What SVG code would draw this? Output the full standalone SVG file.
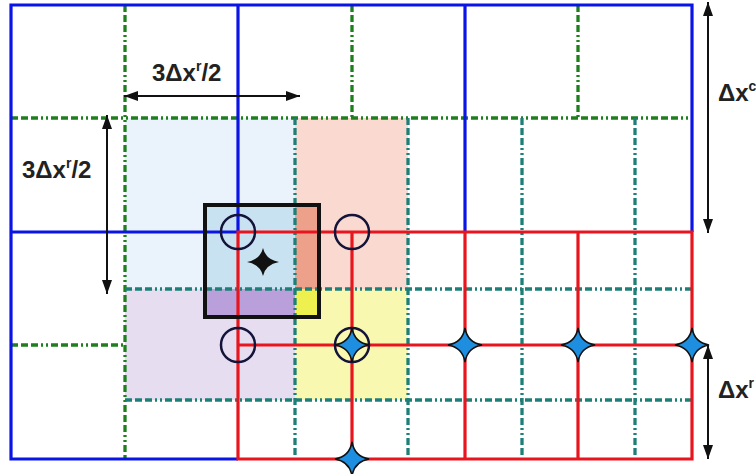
<svg xmlns="http://www.w3.org/2000/svg" width="756" height="474" viewBox="0 0 756 474">
<style>
.blue{stroke:#0a14e6;stroke-width:3.2;fill:none}
.red{stroke:#e8141e;stroke-width:3.2;fill:none}
.green{stroke:#1f7f1f;stroke-width:3.3;fill:none;stroke-dasharray:7 3 7 3 7 3 2 3 2 3}
.teal{stroke:#1e7f78;stroke-width:3.3;fill:none;stroke-dasharray:7 3 7 3 7 3 2 3 2 3}
.circ{stroke:#14143a;stroke-width:2.5;fill:none}
.arr{stroke:#111;stroke-width:2;fill:none}
.lbl{font-family:"Liberation Sans",Arial,sans-serif;font-weight:bold;font-size:24px;fill:#222}
.bstar{fill:#1e8fe0;stroke:#111;stroke-width:1.5}
</style>
<defs>
<marker id="ah" viewBox="0 0 14 10" refX="14" refY="5" markerWidth="14" markerHeight="10" markerUnits="userSpaceOnUse" orient="auto-start-reverse">
<path d="M0,0 L14,5 L0,10 Z" fill="#111"/>
</marker>
<path id="star" d="M0,-17 Q2.5,-2.5 17,0 Q2.5,2.5 0,17 Q-2.5,2.5 -17,0 Q-2.5,-2.5 0,-17 Z"/>
</defs>
<rect width="756" height="474" fill="#fff"/>
<g id="shading">
<rect x="125" y="118" width="170" height="171" fill="#eaf3fb"/>
<rect x="295" y="118" width="113" height="171" fill="#fad9d0"/>
<rect x="125" y="289" width="170" height="111" fill="#e6def0"/>
<rect x="295" y="289" width="113" height="111" fill="#f8f8b0"/>
<rect x="205" y="205" width="90" height="84" fill="#c9e2f1"/>
<rect x="295" y="205" width="24" height="84" fill="#eda08a"/>
<rect x="205" y="289" width="90" height="28" fill="#b9a0da"/>
<rect x="295" y="289" width="24" height="28" fill="#eef050"/>
</g>
<g id="connectors">
<g id="green-lines">
<line class="green" x1="125" y1="5" x2="125" y2="459"/>
<line class="green" x1="352" y1="5" x2="352" y2="118"/>
<line class="green" x1="578" y1="5" x2="578" y2="118"/>
<line class="green" x1="11" y1="118" x2="692" y2="118"/>
<line class="green" x1="11" y1="345" x2="125" y2="345"/>
</g>
<g id="teal-lines">
<line class="teal" x1="295" y1="118" x2="295" y2="459"/>
<line class="teal" x1="408" y1="118" x2="408" y2="459"/>
<line class="teal" x1="522" y1="118" x2="522" y2="459"/>
<line class="teal" x1="635" y1="118" x2="635" y2="459"/>
<line class="teal" x1="125" y1="289" x2="692" y2="289"/>
<line class="teal" x1="125" y1="400" x2="692" y2="400"/>
</g>
<g id="coarse-grid">
<path class="blue" d="M238,459 H11 V5 H692 V232 M11,232 H238 M238,5 V232 M465,5 V232"/>
</g>
<g id="fine-grid">
<path class="red" d="M238,232 H692 V459 H238 Z M238,345 H692 M352,232 V459 M465,232 V459 M578,232 V459"/>
</g>
<g id="arrows">
<line class="arr" x1="124" y1="96" x2="300" y2="96" marker-start="url(#ah)" marker-end="url(#ah)"/>
<line class="arr" x1="107" y1="115" x2="107" y2="294" marker-start="url(#ah)" marker-end="url(#ah)"/>
<line class="arr" x1="708" y1="2" x2="708" y2="233" marker-start="url(#ah)" marker-end="url(#ah)"/>
<line class="arr" x1="708" y1="345" x2="708" y2="459" marker-start="url(#ah)" marker-end="url(#ah)"/>
</g>
</g>
<g id="box">
<rect x="205" y="205" width="114" height="112" fill="none" stroke="#111" stroke-width="4"/>
</g>
<g id="circles">
<circle class="circ" cx="238" cy="232" r="17"/>
<circle class="circ" cx="352" cy="232" r="17"/>
<circle class="circ" cx="238" cy="345" r="17"/>
<circle class="circ" cx="352" cy="345" r="17"/>
</g>
<g id="black-star">
<path d="M0,-14 Q2.5,-2.5 16,0 Q2.5,2.5 0,14 Q-2.5,2.5 -16,0 Q-2.5,-2.5 0,-14 Z" fill="#111" transform="translate(263,262)"/>
</g>
<g id="blue-stars">
<use href="#star" class="bstar" x="352" y="345"/>
<use href="#star" class="bstar" x="465" y="345"/>
<use href="#star" class="bstar" x="578" y="345"/>
<use href="#star" class="bstar" x="692" y="345"/>
<use href="#star" class="bstar" x="352" y="459"/>
</g>
<g id="labels">
<text class="lbl" x="152" y="81">3Δx<tspan font-size="14" dy="-10">r</tspan><tspan dy="10">/2</tspan></text>
<text class="lbl" x="22" y="178">3Δx<tspan font-size="14" dy="-10">r</tspan><tspan dy="10">/2</tspan></text>
<text class="lbl" x="718" y="101">Δx<tspan font-size="14" dy="-10">c</tspan></text>
<text class="lbl" x="718" y="398">Δx<tspan font-size="14" dy="-10">r</tspan></text>
</g>
</svg>
